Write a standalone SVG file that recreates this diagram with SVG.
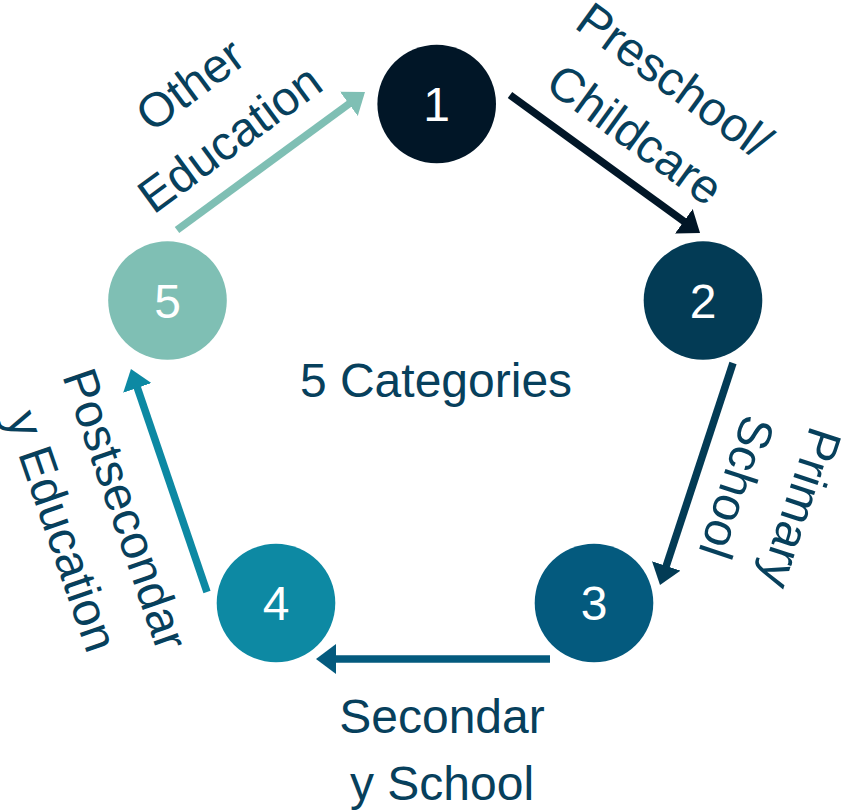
<svg xmlns="http://www.w3.org/2000/svg" width="846" height="811" viewBox="0 0 846 811">
  <style>
    .num { font-family: "Liberation Sans", Arial, sans-serif; font-size: 48px; fill: #ffffff; text-anchor: middle; }
    .lbl { font-family: "Liberation Sans", Arial, sans-serif; font-size: 48px; fill: #07405c; text-anchor: middle; }
    .conn { fill: none; stroke-width: 7.5; stroke-linecap: butt; }
  </style>
  <defs>
    <marker id="h1" viewBox="0 0 20 30" refX="5" refY="15" markerWidth="20" markerHeight="30" markerUnits="userSpaceOnUse" orient="auto"><path d="M0,0 L20,15 L0,30 z" fill="#011627"/></marker>
    <marker id="h2" viewBox="0 0 20 30" refX="5" refY="15" markerWidth="20" markerHeight="30" markerUnits="userSpaceOnUse" orient="auto"><path d="M0,0 L20,15 L0,30 z" fill="#033b55"/></marker>
    <marker id="h3" viewBox="0 0 20 30" refX="5" refY="15" markerWidth="20" markerHeight="30" markerUnits="userSpaceOnUse" orient="auto"><path d="M0,0 L20,15 L0,30 z" fill="#045a7e"/></marker>
    <marker id="h4" viewBox="0 0 20 30" refX="5" refY="15" markerWidth="20" markerHeight="30" markerUnits="userSpaceOnUse" orient="auto"><path d="M0,0 L20,15 L0,30 z" fill="#0d89a3"/></marker>
    <marker id="h5" viewBox="0 0 20 30" refX="5" refY="15" markerWidth="20" markerHeight="30" markerUnits="userSpaceOnUse" orient="auto"><path d="M0,0 L20,15 L0,30 z" fill="#7fbfb4"/></marker>
  </defs>
  <rect width="846" height="811" fill="#ffffff"/>

  <g id="connectors">
    <line class="conn" x1="510" y1="95" x2="687.9" y2="224.2" stroke="#011627" marker-end="url(#h1)"/>
    <line class="conn" x1="733" y1="363" x2="664.7" y2="570.7" stroke="#033b55" marker-end="url(#h2)"/>
    <line class="conn" x1="550" y1="659" x2="331" y2="659" stroke="#045a7e" marker-end="url(#h3)"/>
    <line class="conn" x1="207" y1="592" x2="135.8" y2="383.2" stroke="#0d89a3" marker-end="url(#h4)"/>
    <line class="conn" x1="177" y1="230" x2="352.9" y2="100.9" stroke="#7fbfb4" marker-end="url(#h5)"/>
  </g>

  <g id="labels">
    <g id="label-1-2" transform="translate(605,164) rotate(36)">
      <text class="lbl" x="7" y="-92">Preschool/</text>
      <text class="lbl" x="7" y="-25">Childcare</text>
    </g>
    <g id="label-2-3" transform="translate(696.5,474) rotate(108.2)">
      <text class="lbl" x="0" y="-93">Primary</text>
      <text class="lbl" x="0" y="-26">School</text>
    </g>
    <g id="label-3-4">
      <text class="lbl" x="442" y="733">Secondar</text>
      <text class="lbl" x="442" y="800">y School</text>
    </g>
    <g id="label-4-5" transform="translate(169,480.5) rotate(71)">
      <text class="lbl" x="13" y="67">Postsecondar</text>
      <text class="lbl" x="13" y="134">y Education</text>
    </g>
    <g id="label-5-1" transform="translate(271,161) rotate(-36.3)">
      <text class="lbl" x="-20" y="-93">Other</text>
      <text class="lbl" x="-20" y="-26">Education</text>
    </g>
  </g>

  <g id="node-1">
    <circle cx="436.7" cy="104" r="59.3" fill="#011627"/>
    <text class="num" x="436.7" y="121">1</text>
  </g>
  <g id="node-2">
    <circle cx="703" cy="300.5" r="59.3" fill="#033b55"/>
    <text class="num" x="703" y="318">2</text>
  </g>
  <g id="node-3">
    <circle cx="594" cy="603" r="59.3" fill="#045a7e"/>
    <text class="num" x="594" y="620">3</text>
  </g>
  <g id="node-4">
    <circle cx="276" cy="603" r="59.3" fill="#0d89a3"/>
    <text class="num" x="276" y="620">4</text>
  </g>
  <g id="node-5">
    <circle cx="167.5" cy="300.5" r="59.3" fill="#7fbfb4"/>
    <text class="num" x="167.5" y="318">5</text>
  </g>
  <g id="center-label">
    <text class="lbl" x="436" y="397">5 Categories</text>
  </g>
</svg>
